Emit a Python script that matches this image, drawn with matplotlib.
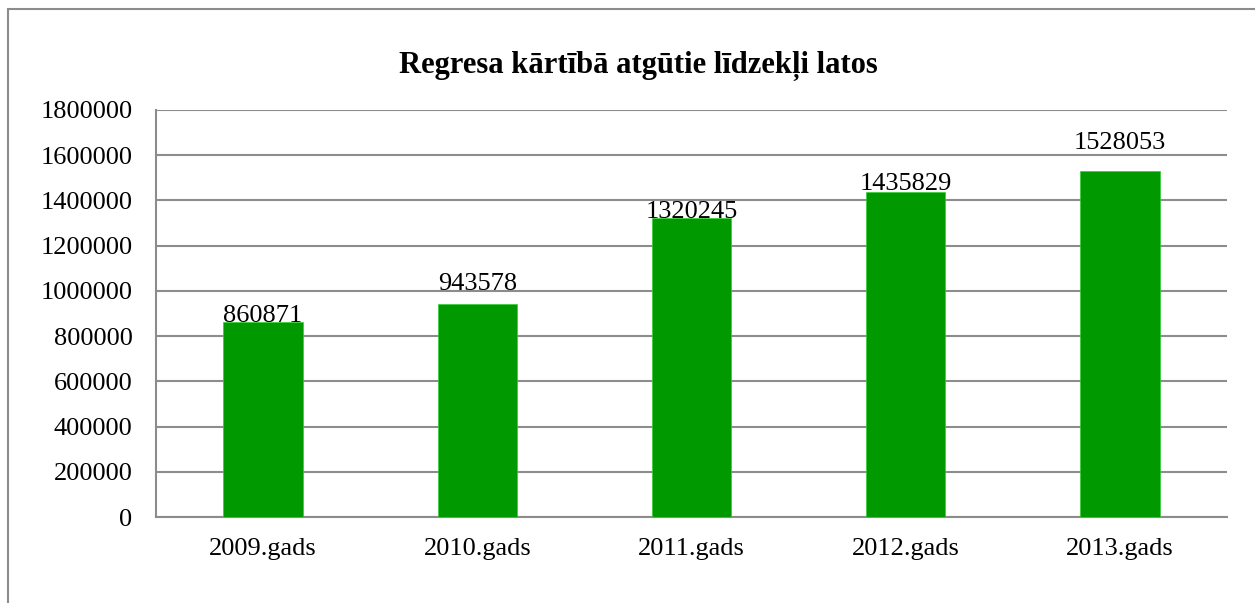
import matplotlib.pyplot as plt
from matplotlib.patches import Rectangle

categories = ['2009.gads', '2010.gads', '2011.gads', '2012.gads', '2013.gads']
values = [860871, 943578, 1320245, 1435829, 1528053]
yticks = [0, 200000, 400000, 600000, 800000, 1000000, 1200000, 1400000, 1600000, 1800000]
# how far above the bar top each label sits, in pixels (as in the original)
label_gap_px = [0, 14, 0, 2, 22]

plt.rcParams['font.family'] = ['Liberation Serif', 'DejaVu Serif']
grey = '#8c8c8c'
fs = 19

fig = plt.figure(figsize=(12.55, 6.03), dpi=100)
ax = fig.add_axes([156 / 1255, 1 - 517 / 603, 1071 / 1255, 407 / 603])

x = range(len(categories))
ax.bar(x, values, width=0.37, color='#009900', edgecolor='#33cc33', linewidth=0.5, zorder=3)

for i, v in enumerate(values):
    ax.annotate(str(v), (i, v), xytext=(0, label_gap_px[i]), textcoords='offset pixels',
                ha='center', va='baseline', fontsize=fs, zorder=4)

ax.set_xlim(-0.5, len(categories) - 0.5)
ax.set_ylim(0, 1800000)
ax.set_yticks(yticks)
ax.set_yticklabels([str(t) for t in yticks])
ax.set_xticks(list(x))
ax.set_xticklabels(categories)
ax.tick_params(axis='y', length=0, pad=17, labelsize=fs)
ax.tick_params(axis='x', length=0, pad=15, labelsize=fs)
ax.yaxis.grid(True, color=grey, linewidth=1.5, zorder=0)
ax.set_axisbelow(True)
for s in ['top', 'right']:
    ax.spines[s].set_visible(False)
for s in ['left', 'bottom']:
    ax.spines[s].set_color(grey)
    ax.spines[s].set_linewidth(1.5)

fig.text(638 / 1255, 1 - 73 / 603, 'Regresa kārtībā atgūtie līdzekļi latos',
         ha='center', va='baseline', fontsize=22, fontweight='bold')

# outer chart frame, cut off on the right and bottom
fig.patches.append(Rectangle((8 / 1255, -0.1), 1.2, 1.1 - 9 / 603, transform=fig.transFigure,
                             fill=False, edgecolor=grey, linewidth=1.5))

fig.savefig('out.png', dpi=100)
